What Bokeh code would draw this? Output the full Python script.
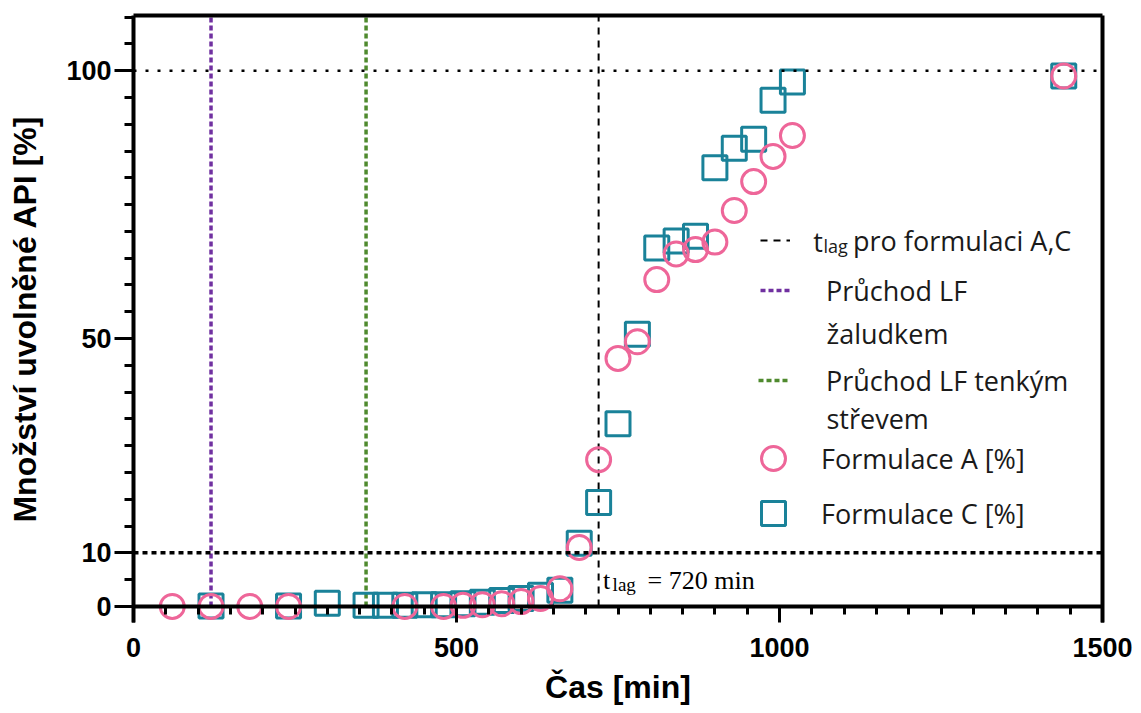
from bokeh.plotting import figure
from bokeh.models import Range1d, LinearAxis, FixedTicker, Span, Label, Legend, LegendItem
from bokeh.embed import file_html
from bokeh.resources import INLINE

# ---------------- data ----------------
time_A = [60, 120, 180, 240, 420, 480, 510, 540, 570, 600, 630, 660, 690, 720,
          750, 780, 810, 840, 870, 900, 930, 960, 990, 1020, 1440]
release_A = [0.0, 0.0, 0.0, 0.0, 0.0, 0.0, 0.2, 0.3, 0.5, 0.9, 1.5, 3.3, 11.0, 27.4,
             46.3, 49.4, 61.0, 65.8, 66.6, 68.0, 73.9, 79.3, 84.0, 87.9, 99.0]

time_C = [120, 240, 300, 360, 390, 420, 450, 480, 510, 540, 570, 600, 630, 660,
          690, 720, 750, 780, 810, 840, 870, 900, 930, 960, 990, 1020, 1440]
release_C = [0.1, 0.1, 0.6, 0.2, 0.2, 0.2, 0.3, 0.3, 0.5, 0.8, 1.1, 1.5, 2.1, 3.0,
             11.8, 19.4, 34.1, 50.8, 66.9, 68.2, 69.1, 81.9, 85.5, 87.2, 94.5, 97.9, 99.0]

x_ticks = [0, 500, 1000, 1500]
x_minor = list(range(0, 1501, 50))
y_ticks = [0, 10, 50, 100]
y_minor = list(range(0, 111, 5))
y_ref_lines = [10, 100]
t_stomach = 120
t_intestine = 360
t_lag = 720

X_MIN, X_MAX = 0, 1500
Y_MIN, Y_MAX = -3.0, 110.3

AX_FONT = "Liberation Sans"
LEG_FONT = "Open Sans"
SERIF = "Liberation Serif"
PINK = "#EE6699"
TEAL = "#1A8299"
PURPLE = "#7030A0"
GREEN = "#4F8A2E"
TXT = "#1A1A1A"

p = figure(width=1133, height=713,
           x_range=Range1d(X_MIN, X_MAX), y_range=Range1d(Y_MIN, Y_MAX),
           output_backend="svg", toolbar_location=None,
           min_border_left=133, min_border_right=31,
           min_border_top=15, min_border_bottom=91)
p.grid.visible = False
p.outline_line_color = None
p.background_fill_color = "white"

def style_axis(ax):
    ax.axis_line_width = 4
    ax.axis_line_color = "black"
    ax.major_tick_line_width = 3
    ax.minor_tick_line_width = 3
    ax.major_tick_line_color = "black"
    ax.minor_tick_line_color = "black"
    ax.major_tick_in = 0
    ax.minor_tick_in = 0
    ax.major_label_text_font = AX_FONT
    ax.major_label_text_font_size = "27px"
    ax.major_label_text_font_style = "bold"
    ax.major_label_text_color = "black"
    ax.axis_label_text_font = AX_FONT
    ax.axis_label_text_font_size = "32px"
    ax.axis_label_text_font_style = "bold"
    ax.axis_label_text_color = "black"

# x axis line and minor ticks sit on y = 0
xa = p.xaxis[0]
style_axis(xa)
xa.fixed_location = 0
xa.ticker = FixedTicker(ticks=[], minor_ticks=x_minor)
xa.major_tick_out = 0
xa.minor_tick_out = 8

# x tick labels, long major ticks (reaching up to y = 0) and title below the frame
xl = LinearAxis(ticker=FixedTicker(ticks=x_ticks))
style_axis(xl)
xl.axis_line_color = None
xl.minor_tick_line_color = None
xl.major_tick_out = 0
xl.major_tick_in = 16
xl.minor_tick_out = 0
xl.major_label_standoff = 15
xl.axis_label = "Čas [min]"
xl.axis_label_standoff = 9
p.add_layout(xl, "below")

ya = p.yaxis[0]
style_axis(ya)
ya.ticker = FixedTicker(ticks=y_ticks, minor_ticks=y_minor)
ya.major_tick_out = 19
ya.minor_tick_out = 9
ya.major_label_standoff = 3
ya.axis_label = "Množství uvolněné API [%]"
ya.axis_label_standoff = 20

# frame lines on top and right
for loc in ("above", "right"):
    ax = LinearAxis(ticker=FixedTicker(ticks=[]), axis_line_width=4, axis_line_color="black",
                    major_tick_out=0, major_tick_in=0, minor_tick_out=0, minor_tick_in=0,
                    major_label_standoff=0)
    p.add_layout(ax, loc)

# reference lines at 10 % and 100 %
p.add_layout(Span(location=y_ref_lines[0], dimension="width", line_color="black",
                  line_width=3.5, line_dash="5 4"))
p.add_layout(Span(location=y_ref_lines[1], dimension="width", line_color="black",
                  line_width=2.5, line_dash="3 9"))

# vertical markers
r_lag = p.segment(x0=[t_lag], y0=[0], x1=[t_lag], y1=[Y_MAX],
                  line_color="black", line_width=2, line_dash="7 6")
r_stom = p.segment(x0=[t_stomach], y0=[0], x1=[t_stomach], y1=[Y_MAX],
                   line_color=PURPLE, line_width=3.5, line_dash="5 3")
r_int = p.segment(x0=[t_intestine], y0=[0], x1=[t_intestine], y1=[Y_MAX],
                  line_color=GREEN, line_width=3.5, line_dash="5 3")

# data
r_C = p.scatter(time_C, release_C, marker="square", size=24, line_color=TEAL,
                line_width=3, fill_color=None)
r_A = p.scatter(time_A, release_A, marker="circle", size=24, line_color=PINK,
                line_width=3, fill_color=None)

# t_lag annotation
def serif_label(text, dx, dy, size):
    p.add_layout(Label(x=t_lag, y=0, x_offset=dx, y_offset=dy, text=text,
                       text_font=SERIF, text_font_size=size, text_color="black",
                       text_baseline="alphabetic"))
serif_label("t", 4.5, 26, "26px")
serif_label("lag", 14, 21.5, "19px")
serif_label("= 720 min", 49, 26, "26px")

# legend: one legend per entry so that each sits where it should
def key(renderer, label, x, y, w, h, standoff):
    lg = Legend(items=[LegendItem(label=label, renderers=[renderer])], location=(x, y),
                glyph_width=w, glyph_height=h, padding=0, spacing=0, margin=0,
                border_line_color=None, background_fill_alpha=0,
                label_text_font=LEG_FONT, label_text_font_size="27px",
                label_text_color=TXT, label_standoff=standoff, label_height=0)
    p.add_layout(lg, "center")

key(r_lag, "pro formulaci A,C", 627, 362, 30, 40, 63)
key(r_stom, "Průchod LF", 627, 312, 32, 40, 34)
key(r_int, "Průchod LF tenkým", 625, 222, 32, 40, 36)
key(r_A, "Formulace A [%]", 610, 134, 60, 60, 18)
key(r_C, "Formulace C [%]", 610, 79, 60, 60, 18)

def txt(s, x, y, size="27px"):
    p.add_layout(Label(x=x, y=y, x_units="screen", y_units="screen", text=s,
                       text_font=LEG_FONT, text_font_size=size, text_color=TXT,
                       text_baseline="alphabetic"))

txt("t", 679.7, 381)
txt("lag", 690, 376.5, "18px")
txt("žaludkem", 693, 289)
txt("střevem", 693, 204)

open("out.html", "w").write(file_html(p, INLINE))
